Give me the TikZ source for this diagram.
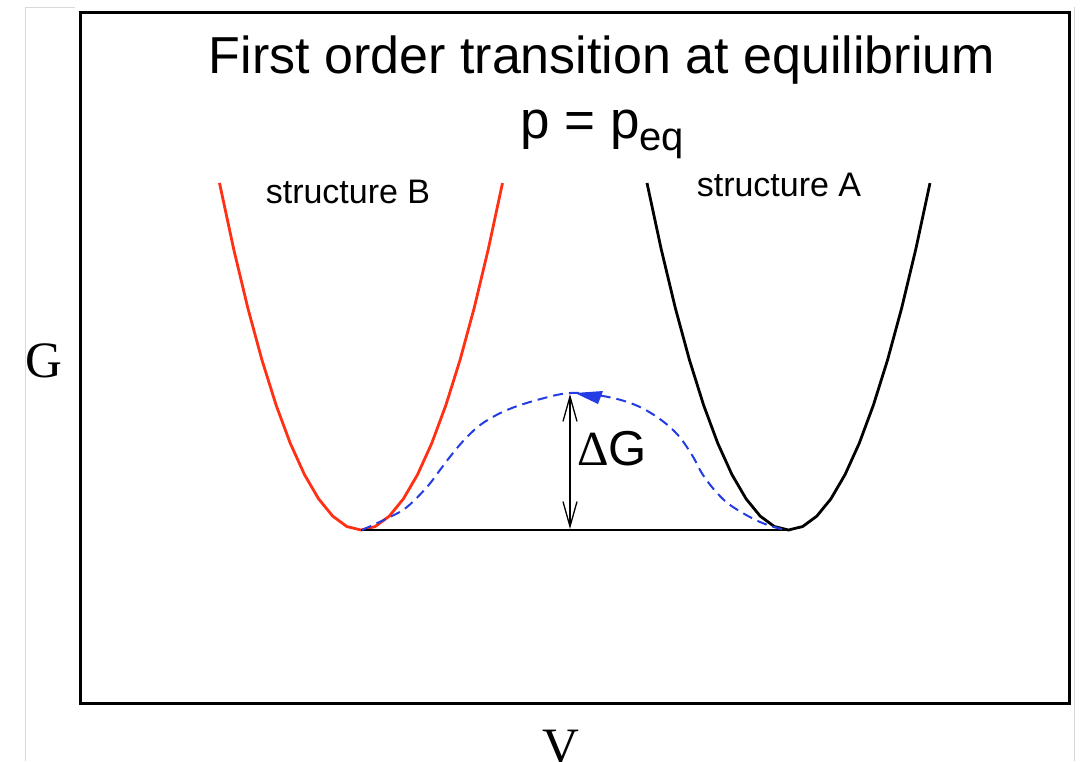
\documentclass[tikz,border=0pt]{standalone}
\usepackage{fontspec}
\setmainfont{Liberation Serif}
\setsansfont{Liberation Sans}
\usetikzlibrary{arrows.meta}
\definecolor{wellred}{RGB}{255,48,20}
\definecolor{pathblue}{RGB}{36,60,228}

\begin{document}
\begin{tikzpicture}[x=1pt,y=-1pt,
        txt/.style={inner sep=0pt,anchor=base,font=\sffamily},
        well/.style={line width=2.8pt,line join=round},
        barrier/.style={pathblue,line width=2pt,dash pattern=on 10pt off 6pt}]
  \useasboundingbox (0,0) rectangle (1082,761);
  % page edges
  \draw[black!15,line width=1pt] (25,761)--(25,7)--(75,7);
  \draw[black!15,line width=1pt] (1074,7)--(1074,761);
  % plot frame
  \draw[line width=3pt] (80,12) rectangle (1069,703);
  \node[txt,font=\sffamily\fontsize{52pt}{52pt}\selectfont] (title) at (602,73) {First order transition at equilibrium};
  \node[txt,font=\sffamily\fontsize{53pt}{53pt}\selectfont,anchor=base west] (peq) at (520,138) {p = p\raisebox{-12pt}{\fontsize{40pt}{40pt}\selectfont eq}};
  \node[txt,font=\sffamily\fontsize{34pt}{34pt}\selectfont] (labB) at (348,203) {structure B};
  \node[txt,font=\sffamily\fontsize{34pt}{34pt}\selectfont] (labA) at (779,196) {structure A};
  \node[txt,font=\rmfamily\fontsize{51pt}{51pt}\selectfont] (axG) at (44,377) {G};
  \node[txt,font=\rmfamily\fontsize{51pt}{51pt}\selectfont] (axV) at (561,763) {V};
  % the two wells
  \draw[well,wellred] plot[domain=-1:1,samples=21] ({361+141.5*\x},{530-347*\x*\x});
  \draw[well,black] plot[domain=-1:1,samples=21] ({788.5+141.5*\x},{530-347*\x*\x});
  \draw[line width=1.8pt] (361,530)--(788,530);
  % path over the barrier
  \draw[barrier] plot[smooth,tension=0.6] coordinates {(362,530) (390,517) (407,507) (427,487)
      (440,470) (453,453) (467,437) (483,423) (507,410) (537,400) (570,393) (603,396)
      (633,404) (657,417) (677,434) (692,455) (703,475) (718,494) (733,507) (760,522) (785,530)};
  \fill[pathblue] (575,393)--(603,391)--(598,404)--cycle;
  \draw[line width=1.3pt,{Straight Barb[length=25pt,width=14pt]}-{Straight Barb[length=25pt,width=14pt]}] (570,394)--(570,529);
  \node[txt,anchor=base west,font=\sffamily\fontsize{49pt}{49pt}\selectfont] (dG) at (577,465) {{\rmfamily Δ}G};
\end{tikzpicture}
\end{document}
